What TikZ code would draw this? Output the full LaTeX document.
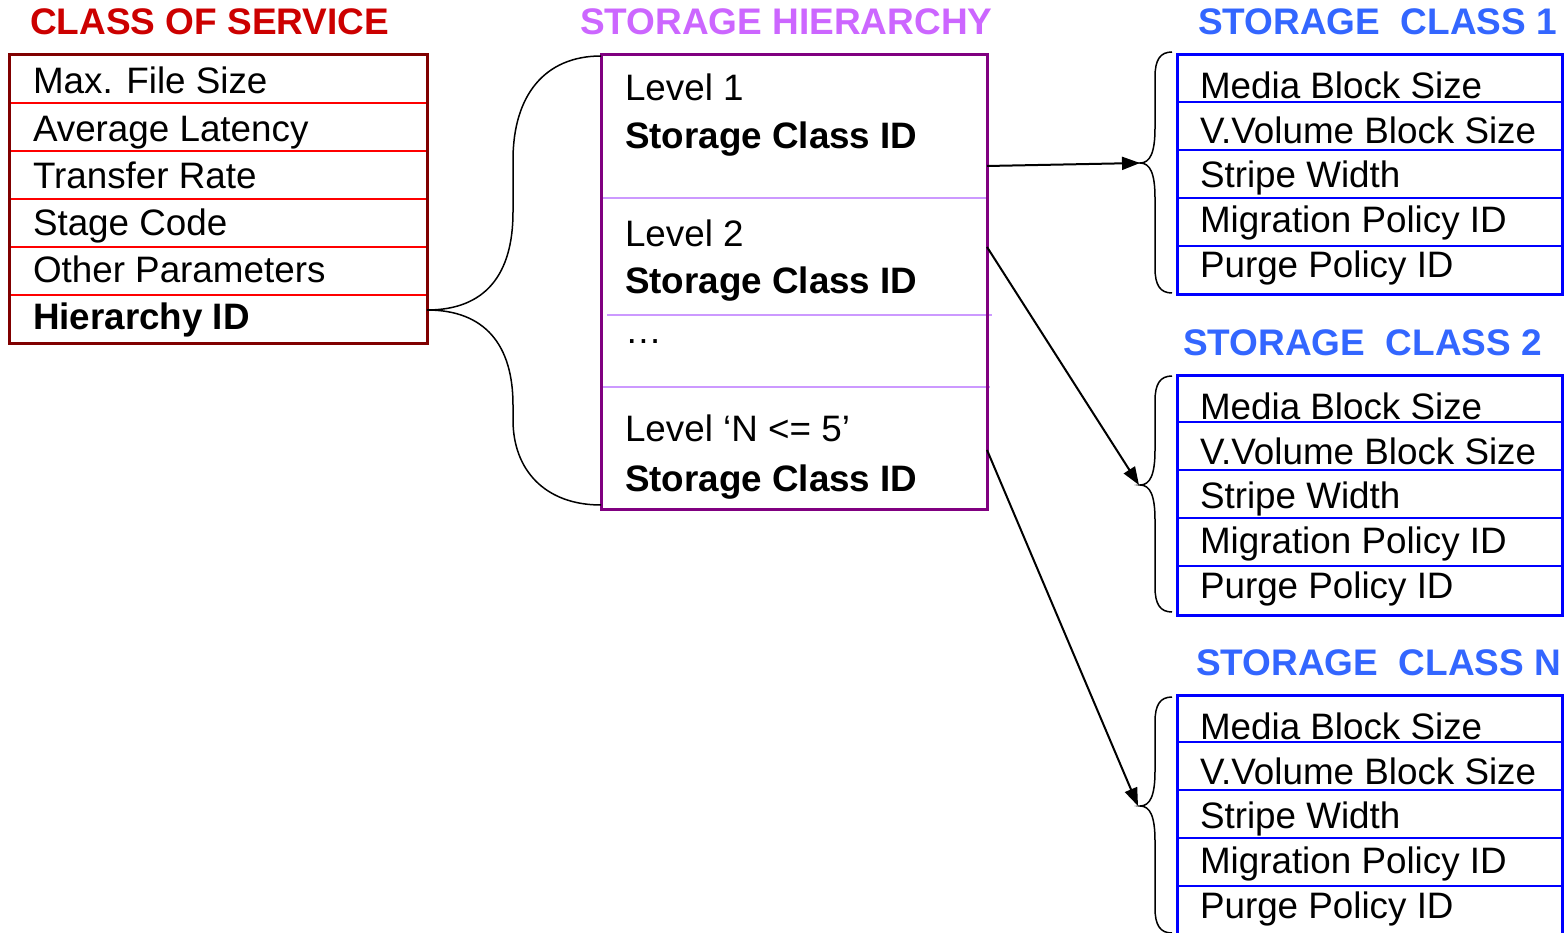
\documentclass[tikz,border=0pt]{standalone}
\usepackage{fontspec}
\setmainfont{Liberation Sans}
\usetikzlibrary{arrows.meta}
\definecolor{cosborder}{RGB}{128,0,0}
\definecolor{cossep}{RGB}{255,0,0}
\definecolor{costitle}{RGB}{204,0,0}
\definecolor{shborder}{RGB}{128,0,128}
\definecolor{shsep}{RGB}{204,153,255}
\definecolor{shtitle}{RGB}{204,102,255}
\definecolor{scborder}{RGB}{0,0,255}
\definecolor{sctitle}{RGB}{51,102,255}
\begin{document}
\begin{tikzpicture}[x=1pt,y=-1pt,
  every node/.style={inner sep=0pt, outer sep=0pt},
  txt/.style={anchor=base west, font=\fontsize{36.8}{40}\selectfont},
  btxt/.style={anchor=base west, font=\fontsize{36.8}{40}\selectfont\bfseries},
  ttl/.style={anchor=base west, font=\fontsize{37}{40}\selectfont\bfseries},
  box/.style={anchor=north west, line width=3pt, fill=white},
  sep/.style={line width=2pt},
  brace/.style={line width=1.5pt, black},
  arr/.style={line width=2pt, -{Triangle[length=18pt,width=13pt]}}
]
\useasboundingbox[fill=white] (0,0) rectangle (1566,933);

% ---------- Class of service ----------
\node[ttl, text=costitle] (costitle) at (30,35) {CLASS OF SERVICE};
\node[box, draw=cosborder, minimum width=418pt, minimum height=288pt] (cos) at (9,55) {};
\foreach \y in {103,151,199,247,295}{
  \draw[sep, cossep] (10.5,\y) -- (425.5,\y);
}
\draw[line width=3pt, cosborder] (cos.north west) rectangle (cos.south east);
\node[txt] (c1) at (33,94) {Max. File Size};
\node[txt] (c2) at (33,142) {Average Latency};
\node[txt] (c3) at (33,189) {Transfer Rate};
\node[txt] (c4) at (33,236) {Stage Code};
\node[txt] (c5) at (33,283) {Other Parameters};
\node[btxt] (c6) at (33,330) {Hierarchy ID};

% ---------- Storage hierarchy ----------
\node[ttl, text=shtitle] (shtitle) at (580,35) {STORAGE HIERARCHY};
\node[box, draw=shborder, minimum width=386pt, minimum height=454pt] (sh) at (601,55) {};
\draw[sep, shsep] (603,198) -- (987,198);
\draw[sep, shsep] (607,315) -- (992,315);
\draw[sep, shsep] (603,387) -- (990,387);
\draw[line width=3pt, shborder] (sh.north west) rectangle (sh.south east);
\node[txt] (l1) at (625,101) {Level 1};
\node[btxt] (l1id) at (625,149) {Storage Class ID};
\node[txt] (l2) at (625,247) {Level 2};
\node[btxt] (l2id) at (625,294) {Storage Class ID};
\node[txt] (ld) at (625,343) {\dots};
\node[txt] (ln) at (625,441) {Level ‘N <= 5’};
\node[btxt] (lnid) at (625,491) {Storage Class ID};

% big brace from Hierarchy ID
\coordinate (hidtip) at (427,310);
\coordinate (shtop) at (601,56);
\coordinate (shbot) at (601,505);
\draw[brace] (shtop) .. controls (545,56) and (513,95) .. (513,160) -- (513,212)
  .. controls (513,275) and (485,310) .. (hidtip)
  .. controls (485,310) and (513,345) .. (513,405) -- (513,420)
  .. controls (513,470) and (545,505) .. (shbot);

% ---------- Storage classes ----------
\newcommand{\sclass}[4]{% #1 name, #2 top y, #3 title x, #4 title label
  \node[ttl, text=sctitle] (#1title) at (#3,#2-20) {#4};
  \node[box, draw=scborder, minimum width=385pt, minimum height=240pt] (#1) at (1177,#2) {};
  \foreach \k in {1,2,3,4}{
    \draw[sep, scborder] (1178,#2+48*\k-1) -- (1561,#2+48*\k-1);
  }
  \draw[line width=3pt, scborder] (#1.north west) rectangle (#1.south east);
  \node[txt] (#1r1) at (1200,#2+44) {Media Block Size};
  \node[txt] (#1r2) at (1200,#2+89) {V.Volume Block Size};
  \node[txt] (#1r3) at (1200,#2+133) {Stripe Width};
  \node[txt] (#1r4) at (1200,#2+178) {Migration Policy ID};
  \node[txt] (#1r5) at (1200,#2+223) {Purge Policy ID};
}
\sclass{sa}{55}{1198}{STORAGE\ \ CLASS 1}
\sclass{sb}{375}{1183}{STORAGE\ \ CLASS 2}
\sclass{sn}{695}{1196}{STORAGE\ \ CLASS N}

% small braces
\newcommand{\sbrace}[3]{% #1 top y, #2 tip y, #3 bottom y
  \draw[brace] (1172,#1) .. controls (1160,#1) and (1155,#1+8) .. (1155,#1+25)
    -- (1155,#2-35) .. controls (1155,#2-10) and (1150,#2) .. (1140,#2)
    .. controls (1150,#2) and (1155,#2+10) .. (1155,#2+35)
    -- (1155,#3-25) .. controls (1155,#3-8) and (1160,#3) .. (1172,#3);
}
\sbrace{52}{163}{293}
\sbrace{376}{485}{612}
\sbrace{697}{806}{933}
\coordinate (tipa) at (1140,163);
\coordinate (tipb) at (1139,485);
\coordinate (tipn) at (1138,806);

% arrows
\coordinate (fa) at (987,166);
\coordinate (fb) at (987,247);
\coordinate (fn) at (987,450);
\draw[arr] (fa) -- (tipa);
\draw[arr] (fb) -- (tipb);
\draw[arr] (fn) -- (tipn);
\end{tikzpicture}
\end{document}
